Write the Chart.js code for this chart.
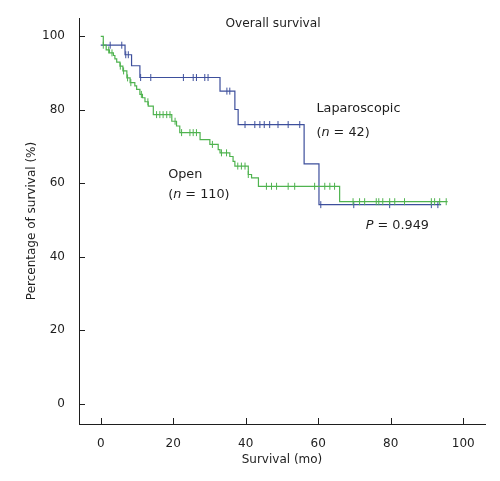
<!DOCTYPE html>
<html><head><meta charset="utf-8">
<script src="https://cdn.jsdelivr.net/npm/chart.js@4/dist/chart.umd.min.js"></script>
<style>html,body{margin:0;padding:0;background:#fff}</style>
</head><body>
<canvas id="c" width="500" height="481"></canvas>
<script>
// ---- data ----
const xTickValues = [0, 20, 40, 60, 80, 100];
const yTickValues = [0, 20, 40, 60, 80, 100];

// Laparoscopic (n = 42): step times and survival after each step
const lapTimes = [0, 6.7, 8.5, 10.8, 32.9, 37.0, 37.9, 56.1, 60.2, 93.9];
const lapSurv  = [97.6, 95.0, 92.0, 88.8, 85.1, 80.1, 76.0, 65.3, 54.2, 54.2];
const lapCensor = [2.6, 5.8, 6.9, 7.6, 11.0, 13.8, 22.8, 25.5, 26.4, 28.7, 29.6, 34.8, 35.6,
  39.8, 42.5, 43.9, 45.1, 46.6, 48.9, 51.7, 54.9, 60.7, 69.8, 79.7, 91.2, 93.0];

// Open (n = 110)
const openTimes = [0, 0.7, 1.5, 2.4, 3.5, 3.9, 4.4, 5.3, 6.1, 7.2, 8.1, 9.4, 9.9, 10.8, 11.5, 12.2,
  13.1, 14.5, 19.6, 20.9, 21.8, 27.4, 30.1, 32.4, 32.9, 35.6, 36.5, 37.0, 40.7, 41.6, 43.5, 65.9, 95.7];
const openSurv = [100, 97.6, 96.3, 95.5, 94.8, 93.9, 93.0, 91.9, 90.6, 88.7, 87.4, 86.5, 85.6, 84.2, 83.3, 82.2,
  81.0, 78.7, 76.9, 75.6, 73.8, 71.9, 70.6, 69.2, 68.3, 67.3, 66.0, 64.7, 62.4, 61.5, 59.2, 55.0, 55.0];
const openCensor = [0.7, 2.2, 3.1, 5.4, 6.3, 7.4, 8.3, 11.2, 13.0, 15.4, 16.3, 17.2, 18.2, 19.1, 20.5, 22.3,
  24.6, 25.5, 26.4, 30.8, 33.3, 34.7, 37.8, 38.8, 39.8, 40.7, 45.7, 47.1, 48.5, 51.7, 53.5, 59.0, 61.8, 63.2,
  64.5, 69.6, 71.4, 72.8, 76.0, 76.7, 77.8, 79.7, 81.1, 83.8, 91.2, 92.1, 93.5, 95.3];

// ---- styling ----
const BLUE = '#3d4f9c';
const GREEN = '#4fb34f';
const TXT = '#1e1e1e';
const FONT = 'DejaVu Sans';

function survAt(times, surv, t) {
  let s = surv[0];
  for (let i = 0; i < times.length; i++) { if (times[i] <= t + 1e-9) s = surv[i]; }
  return s;
}
const pts = (times, surv) => times.map((t, i) => ({x: t, y: surv[i]}));
const cens = (list, times, surv) => list.map(t => ({x: t, y: survAt(times, surv, t)}));

const labels = [
  {x: 59.5, y: 79.3, parts: [['Laparoscopic', false]]},
  {x: 59.5, y: 73.0, parts: [['(', false], ['n', true], [' = 42)', false]]},
  {x: 18.6, y: 61.5, parts: [['Open', false]]},
  {x: 18.6, y: 55.9, parts: [['(', false], ['n', true], [' = 110)', false]]},
  {x: 73.1, y: 47.7, parts: [['P', true], [' = 0.949', false]]}
];

const annotPlugin = {
  id: 'annot',
  afterDraw(chart) {
    const {ctx, scales: {x, y}, chartArea} = chart;
    ctx.save();
    // inward tick marks
    ctx.strokeStyle = TXT; ctx.lineWidth = 1;
    ctx.beginPath();
    xTickValues.forEach(v => {
      const px = Math.round(x.getPixelForValue(v)) + 0.5;
      ctx.moveTo(px, chartArea.bottom); ctx.lineTo(px, chartArea.bottom - 6);
    });
    yTickValues.forEach(v => {
      const py = Math.round(y.getPixelForValue(v)) + 0.5;
      ctx.moveTo(chartArea.left, py); ctx.lineTo(chartArea.left + 6, py);
    });
    ctx.stroke();
    // texts
    ctx.fillStyle = TXT;
    ctx.textBaseline = 'alphabetic';
    ctx.textAlign = 'center';
    ctx.font = '12.2px "' + FONT + '"';
    ctx.fillText('Overall survival', 273, 27);
    ctx.textAlign = 'left';
    labels.forEach(l => {
      let px = x.getPixelForValue(l.x);
      const py = y.getPixelForValue(l.y);
      l.parts.forEach(([t, it]) => {
        ctx.font = (it ? 'italic ' : '') + '12.8px "' + FONT + '"';
        ctx.fillText(t, px, py);
        px += ctx.measureText(t).width;
      });
    });
    ctx.restore();
  }
};

const tickFont = {family: FONT, size: 12};

new Chart(document.getElementById('c'), {
  type: 'line',
  data: {
    datasets: [
      {label: 'Open', data: pts(openTimes, openSurv), stepped: 'before', borderColor: GREEN,
       borderWidth: 1.2, pointRadius: 0, fill: false},
      {label: 'Open censored', type: 'scatter', data: cens(openCensor, openTimes, openSurv),
       pointStyle: 'line', rotation: 90, radius: 3.5, borderColor: GREEN, backgroundColor: GREEN,
       borderWidth: 1, showLine: false},
      {label: 'Laparoscopic', data: pts(lapTimes, lapSurv), stepped: 'before', borderColor: BLUE,
       borderWidth: 1.2, pointRadius: 0, fill: false},
      {label: 'Laparoscopic censored', type: 'scatter', data: cens(lapCensor, lapTimes, lapSurv),
       pointStyle: 'line', rotation: 90, radius: 3.5, borderColor: BLUE, backgroundColor: BLUE,
       borderWidth: 1, showLine: false}
    ]
  },
  options: {
    responsive: false,
    animation: false,
    layout: {padding: {top: 18, right: 15, left: 0, bottom: 0}},
    plugins: {legend: {display: false}, tooltip: {enabled: false}, title: {display: false}},
    scales: {
      x: {
        type: 'linear', min: -6, max: 106,
        afterBuildTicks: s => { s.ticks = xTickValues.map(v => ({value: v})); },
        afterFit: s => { s.height = 57; },
        grid: {display: false},
        border: {display: true, color: TXT, width: 1},
        ticks: {color: TXT, font: tickFont, padding: 5, autoSkip: false, maxRotation: 0},
        title: {display: true, text: 'Survival (mo)', color: TXT, font: tickFont, padding: {top: 0, bottom: 14}}
      },
      y: {
        type: 'linear', min: -5.5, max: 105,
        afterBuildTicks: s => { s.ticks = yTickValues.map(v => ({value: v})); },
        afterFit: s => { s.width = 79; },
        grid: {display: false},
        border: {display: true, color: TXT, width: 1},
        ticks: {color: TXT, font: tickFont, padding: 6, autoSkip: false},
        title: {display: true, text: 'Percentage of survival (%)', color: TXT, font: tickFont, padding: {top: 25, bottom: 0}}
      }
    }
  },
  plugins: [annotPlugin]
});
</script>
</body></html>
